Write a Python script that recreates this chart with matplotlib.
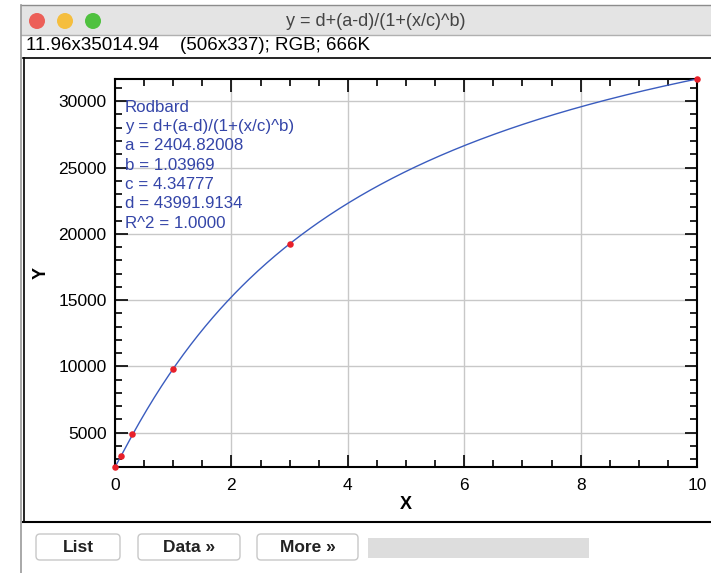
import numpy as np
import matplotlib.pyplot as plt
from matplotlib.patches import Rectangle, FancyBboxPatch, Circle
from matplotlib.ticker import MultipleLocator

plt.rcParams['font.family'] = ['Liberation Sans', 'DejaVu Sans']

x_data = [0, 0.1, 0.3, 1, 3, 10]
y_data = [2405, 3250, 4880, 9810, 19230, 31680]

# Rodbard fit parameters shown in the window
a, b, c, d = 2404.82008, 1.03969, 4.34777, 43991.9134
fit_lines = ["Rodbard", "y = d+(a-d)/(1+(x/c)^b)", "a = 2404.82008", "b = 1.03969",
             "c = 4.34777", "d = 43991.9134", "R^2 = 1.0000"]

title = "y = d+(a-d)/(1+(x/c)^b)"
info = "11.96x35014.94    (506x337); RGB; 666K"
buttons = ["List", "Data \u00bb", "More \u00bb"]

W, H = 711, 573
fig = plt.figure(figsize=(W / 100, H / 100), dpi=100)

# window chrome drawn in pixel coordinates
bg = fig.add_axes([0, 0, 1, 1], zorder=0)
bg.set_xlim(0, W)
bg.set_ylim(H, 0)
bg.axis('off')
bg.add_patch(Rectangle((21, 5), W - 21, 30, facecolor='#e4e4e4', edgecolor='none'))
bg.plot([21, W], [5, 5], color='#8c8c8c', lw=1)
bg.plot([21, W], [35, 35], color='#b0b0b0', lw=1)
bg.plot([21, 21], [5, H], color='#9a9a9a', lw=1.2)
for cx, col in zip([37, 65, 93], ['#ec5f58', '#f5be3e', '#4fc13f']):
    bg.add_patch(Circle((cx, 21), 8, facecolor=col, edgecolor='none'))
bg.text(376, 21, title, ha='center', va='center', fontsize=13, color='#444444')
bg.text(26, 45, info, ha='left', va='center', fontsize=13.5, color='black')
bg.plot([23, W], [58, 58], color='black', lw=1.2)
bg.plot([24, 24], [58, 522], color='black', lw=1.2)
bg.plot([23, W], [522, 522], color='black', lw=1.5)
for (x0, x1), lab in zip([(36, 120), (138, 240), (257, 358)], buttons):
    bg.add_patch(FancyBboxPatch((x0, 534), x1 - x0, 26, boxstyle='round,pad=0,rounding_size=4',
                                facecolor='white', edgecolor='#c8c8c8', lw=1))
    bg.text((x0 + x1) / 2, 547, lab, ha='center', va='center', fontsize=12.5,
            color='#222222', fontweight='bold')
bg.add_patch(Rectangle((368, 538), 221, 20, facecolor='#dddddd', edgecolor='none'))

# plot area
left, right, top, bottom = 115, 697, 79, 467
ax = fig.add_axes([left / W, 1 - bottom / H, (right - left) / W, (bottom - top) / H], zorder=1)

xs = np.linspace(0, 10, 400)
ys = d + (a - d) / (1 + (xs / c) ** b)
ax.plot(xs, ys, color='#3a5cbf', lw=1, zorder=3)
ax.scatter(x_data, y_data, s=22, color='#e8202a', zorder=4, clip_on=False, linewidths=0)

ax.set_xlim(0, 10)
ax.set_ylim(min(y_data), ys.max())
ax.xaxis.set_major_locator(MultipleLocator(2))
ax.xaxis.set_minor_locator(MultipleLocator(0.5))
ax.yaxis.set_major_locator(MultipleLocator(5000))
ax.yaxis.set_minor_locator(MultipleLocator(1000))
ax.grid(True, which='major', color='#c8c8c8', lw=1)
ax.set_axisbelow(True)
ax.tick_params(which='both', direction='in', top=True, right=True, width=1.2,
               labelsize=12.5, colors='black')
ax.tick_params(axis='y', pad=6)
ax.tick_params(axis='x', pad=8)
ax.tick_params(which='major', length=9)
ax.tick_params(which='minor', length=5)
for s in ax.spines.values():
    s.set_linewidth(1.5)

ax.set_xlabel("X", fontsize=13, fontweight='bold', labelpad=2)
ax.set_ylabel("Y", fontsize=13, fontweight='bold', labelpad=6)

# fit summary text in the top-left corner
for i, line in enumerate(fit_lines):
    fig.text(125 / W, 1 - (107 + 19.4 * i) / H, line, ha='left', va='center',
             fontsize=12.2, color='#3445a8', zorder=5)

fig.savefig("out.png", dpi=100)
